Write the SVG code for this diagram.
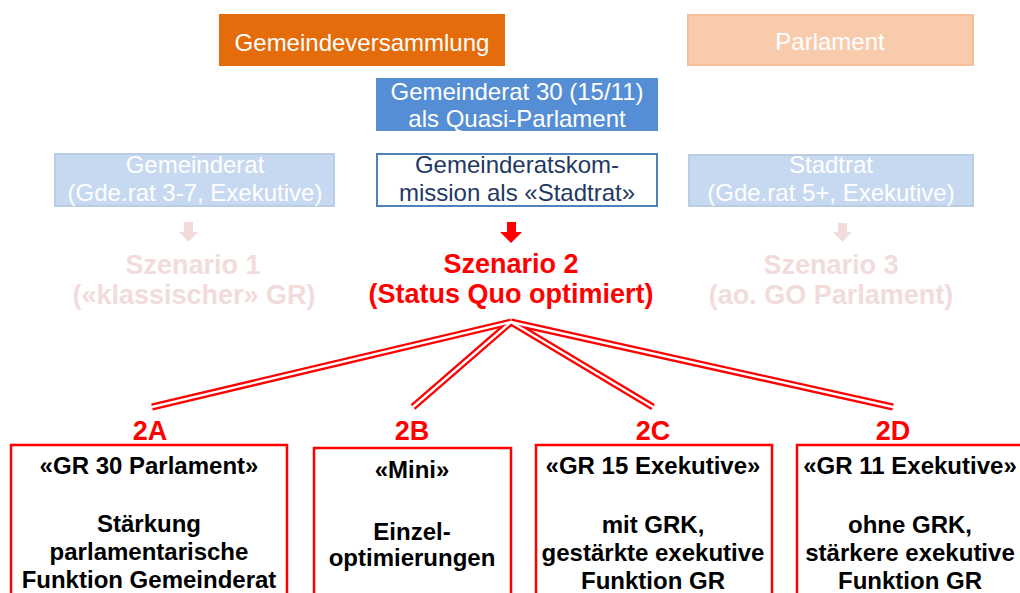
<svg xmlns="http://www.w3.org/2000/svg" width="1020" height="593" viewBox="0 0 1020 593">
<style>
text{font-family:"Liberation Sans",Arial,sans-serif;text-anchor:middle}
.t{font-size:24px}
.w{fill:#FFFFFF}
.nav{fill:#1F3864}
.sz{font-size:27px;font-weight:bold}
.red{fill:#FF0000}
.fade{fill:#F2DCDB}
.lab{font-size:27px;font-weight:bold;fill:#FF0000}
.bx{font-size:24px;font-weight:bold;fill:#000000}
.opt{fill:#FFFFFF;stroke:#FF0000;stroke-width:2.5}
.lb{fill:#C6D9F1;stroke:#B9CDE5;stroke-width:2}
.c1{fill:none;stroke:#FF0000;stroke-width:7}
.c2{fill:none;stroke:#FFFFFF;stroke-width:2.4}
</style>
<rect width="1020" height="593" fill="#FFFFFF"/>
<g id="gemeindeversammlung">
<rect x="219" y="14" width="286" height="52" fill="#E46C0A"/>
<text class="t w" x="362" y="51">Gemeindeversammlung</text>
</g>
<g id="parlament">
<rect x="688" y="15" width="285" height="50" fill="#F8CBAD" stroke="#F4BE98" stroke-width="2"/>
<text class="t w" x="830" y="50">Parlament</text>
</g>
<g id="gemeinderat30">
<rect x="376" y="78" width="282" height="53" fill="#558ED5"/>
<text class="t w" x="517" y="100">Gemeinderat 30 (15/11)</text>
<text class="t w" x="517" y="127">als Quasi-Parlament</text>
</g>
<g id="gemeinderat">
<rect class="lb" x="55" y="154" width="279" height="52"/>
<text class="t w" x="195" y="173">Gemeinderat</text>
<text class="t w" x="195" y="201">(Gde.rat 3-7, Exekutive)</text>
</g>
<g id="gemeinderatskommission">
<rect x="377" y="154" width="280" height="52" fill="#FFFFFF" stroke="#4F81BD" stroke-width="2"/>
<text class="t nav" x="517" y="173">Gemeinderatskom-</text>
<text class="t nav" x="517" y="201">mission als «Stadtrat»</text>
</g>
<g id="stadtrat">
<rect class="lb" x="689" y="155" width="284" height="51"/>
<text class="t w" x="831" y="173">Stadtrat</text>
<text class="t w" x="831" y="201">(Gde.rat 5+, Exekutive)</text>
</g>
<g id="szenario1">
<polygon points="184,222 193,222 193,232 198,232 188.5,242 179,232 184,232" fill="#F2DCDB"/>
<text class="sz fade" x="193" y="274">Szenario 1</text>
<text class="sz fade" x="194" y="304">(«klassischer» GR)</text>
</g>
<g id="szenario2">
<polygon points="507,222 516,222 516,232 522,232 511,243 500,232 507,232" fill="#FF0000"/>
<text class="sz red" x="511" y="273">Szenario 2</text>
<text class="sz red" x="511" y="303">(Status Quo optimiert)</text>
</g>
<g id="szenario3">
<polygon points="838,223 847,223 847,232 852,232 842.5,242 833,232 838,232" fill="#F2DCDB"/>
<text class="sz fade" x="831" y="274">Szenario 3</text>
<text class="sz fade" x="831" y="304">(ao. GO Parlament)</text>
</g>
<g id="connectors">
<path class="c1" d="M511,322 L152,407"/>
<path class="c1" d="M511,322 L413,407"/>
<path class="c1" d="M511,322 L653,407"/>
<path class="c1" d="M511,322 L893,407"/>
<path class="c2" d="M511,322 L152,407"/>
<path class="c2" d="M511,322 L413,407"/>
<path class="c2" d="M511,322 L653,407"/>
<path class="c2" d="M511,322 L893,407"/>
</g>
<g id="option2A">
<text class="lab" x="150" y="440">2A</text>
<rect class="opt" x="11" y="445" width="276" height="160"/>
<text class="bx" x="149" y="474">«GR 30 Parlament»</text>
<text class="bx" x="149" y="532">Stärkung</text>
<text class="bx" x="149" y="560">parlamentarische</text>
<text class="bx" x="149" y="588">Funktion Gemeinderat</text>
</g>
<g id="option2B">
<text class="lab" x="412" y="440">2B</text>
<rect class="opt" x="314" y="448" width="197" height="160"/>
<text class="bx" x="412" y="478">«Mini»</text>
<text class="bx" x="412" y="540">Einzel-</text>
<text class="bx" x="412" y="566">optimierungen</text>
</g>
<g id="option2C">
<text class="lab" x="653" y="440">2C</text>
<rect class="opt" x="536" y="445" width="236" height="160"/>
<text class="bx" x="653" y="474">«GR 15 Exekutive»</text>
<text class="bx" x="653" y="533">mit GRK,</text>
<text class="bx" x="653" y="561">gestärkte exekutive</text>
<text class="bx" x="653" y="589">Funktion GR</text>
</g>
<g id="option2D">
<text class="lab" x="893" y="440">2D</text>
<rect class="opt" x="797" y="445" width="236" height="160"/>
<text class="bx" x="910" y="474">«GR 11 Exekutive»</text>
<text class="bx" x="910" y="533">ohne GRK,</text>
<text class="bx" x="910" y="561">stärkere exekutive</text>
<text class="bx" x="910" y="589">Funktion GR</text>
</g>
</svg>
